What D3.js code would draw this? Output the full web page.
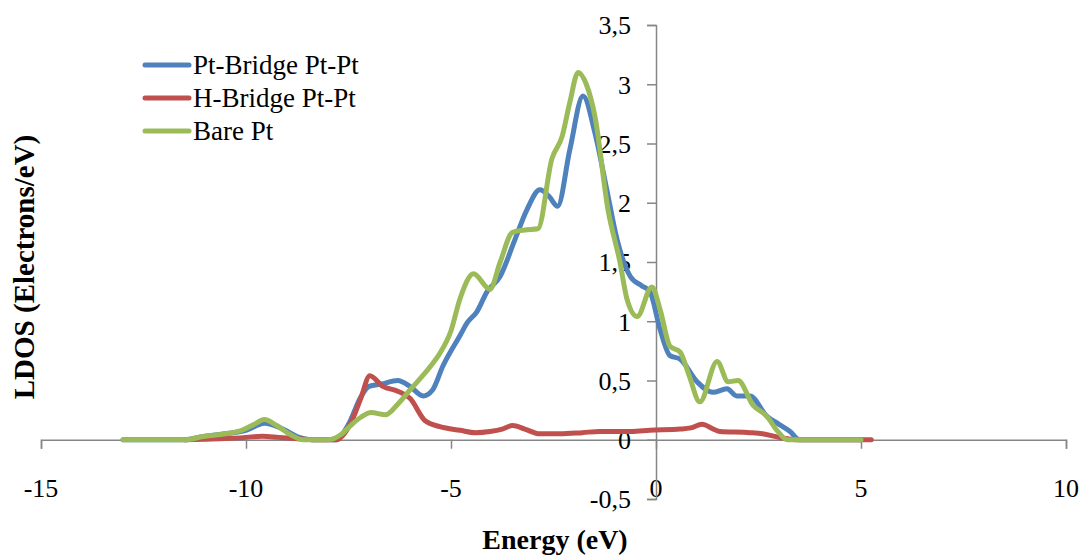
<!DOCTYPE html>
<html>
<head>
<meta charset="utf-8">
<script src="https://cdn.jsdelivr.net/npm/d3@7"></script>
<style>
  html, body { margin: 0; padding: 0; background: #fff; }
  svg { display: block; }
  text { font-family: "Liberation Serif", "Times New Roman", serif; fill: #000; }
</style>
</head>
<body>
<svg id="chart" width="1081" height="556"></svg>
<script>
// Series labels
const seriesNames = ["Pt-Bridge Pt-Pt", "H-Bridge Pt-Pt", "Bare Pt"];
const seriesColors = ["#4F81BD", "#C0504D", "#9BBB59"];

// Pt-Bridge Pt-Pt: energy (eV) and LDOS (electrons/eV)
const ptBridgeE = [-13, -11.5, -11, -10.5, -10.0, -9.55, -9.1, -8.7, -8.4, -7.8, -7.5, -7.2, -7.0, -6.7, -6.3, -6.0, -5.68, -5.45, -5.2, -4.78, -4.6, -4.37, -4.12, -3.8, -3.45, -3.15, -2.83, -2.6, -2.4, -2.1, -1.78, -1.49, -1.2, -0.95, -0.63, -0.35, -0.15, 0.1, 0.34, 0.59, 1.0, 1.39, 1.73, 1.97, 2.29, 2.7, 3.0, 3.27, 3.5, 5.0];
const ptBridgeV = [0, 0, 0.03, 0.05, 0.08, 0.14, 0.09, 0.02, 0, 0, 0.13, 0.36, 0.45, 0.47, 0.50, 0.45, 0.37, 0.42, 0.62, 0.88, 0.99, 1.08, 1.25, 1.38, 1.68, 1.94, 2.11, 2.05, 1.97, 2.45, 2.90, 2.59, 2.11, 1.69, 1.38, 1.30, 1.25, 0.93, 0.71, 0.68, 0.49, 0.40, 0.43, 0.37, 0.37, 0.20, 0.13, 0.07, 0, 0];

// H-Bridge Pt-Pt
const hBridgeE = [-11.5, -11, -10.5, -10, -9.6, -9.2, -8.8, -8.3, -7.8, -7.46, -7.2, -6.98, -6.66, -6.3, -6.0, -5.63, -5.27, -4.78, -4.4, -4.05, -3.75, -3.5, -3.2, -2.83, -2.34, -1.8, -1.37, -0.6, -0.15, 0.59, 0.85, 1.12, 1.4, 1.56, 2.29, 2.6, 3.0, 3.5, 5.25];
const hBridgeV = [0, 0.005, 0.01, 0.02, 0.03, 0.02, 0.01, 0, 0, 0.13, 0.35, 0.54, 0.45, 0.41, 0.35, 0.16, 0.11, 0.08, 0.06, 0.07, 0.09, 0.12, 0.09, 0.05, 0.05, 0.06, 0.07, 0.07, 0.08, 0.09, 0.10, 0.13, 0.09, 0.07, 0.06, 0.05, 0.02, 0, 0];

// Bare Pt
const barePtE = [-13, -11.5, -11, -10.5, -10.1, -9.8, -9.55, -9.25, -8.9, -8.6, -8.0, -7.7, -7.45, -7.2, -6.95, -6.6, -6.3, -6.0, -5.5, -5.27, -5.0, -4.78, -4.45, -4.05, -3.8, -3.5, -3.2, -2.88, -2.54, -2.29, -2.1, -1.9, -1.7, -1.49, -1.17, -0.88, -0.71, -0.46, -0.1, 0.1, 0.34, 0.59, 0.8, 1.07, 1.49, 1.76, 2.0, 2.37, 2.7, 2.95, 3.2, 5.0];
const barePtV = [0, 0, 0.03, 0.05, 0.08, 0.13, 0.17, 0.12, 0.04, 0, 0, 0.04, 0.12, 0.19, 0.23, 0.21, 0.30, 0.42, 0.62, 0.73, 0.92, 1.19, 1.40, 1.27, 1.50, 1.75, 1.77, 1.78, 2.37, 2.56, 2.85, 3.10, 3.00, 2.73, 1.94, 1.50, 1.19, 1.04, 1.29, 1.10, 0.79, 0.74, 0.55, 0.32, 0.66, 0.49, 0.50, 0.29, 0.20, 0.08, 0, 0];

// Axis ticks
const xTicks = [-15, -10, -5, 0, 5, 10];
const yTicks = [-0.5, 0, 0.5, 1, 1.5, 2, 2.5, 3, 3.5];

const svg = d3.select("#chart");
const axisColor = "#868686";

const x = d3.scaleLinear().domain([-15, 10]).range([41, 1066]);
const y = d3.scaleLinear().domain([-0.5, 3.5]).range([499, 25]);

const fmt = v => String(v).replace(".", ",");

// Horizontal axis through y = 0
const xAxis = d3.axisBottom(x).tickValues(xTicks).tickSize(9).tickFormat(d => d);
const gx = svg.append("g").attr("transform", `translate(0,${y(0)})`).call(xAxis);
gx.select(".domain").attr("stroke", axisColor).attr("stroke-width", 1.5);
gx.selectAll(".tick line").attr("stroke", axisColor).attr("stroke-width", 1.5);
gx.selectAll(".tick text").remove();
// x tick labels sit below the plot
svg.append("g").selectAll("text").data(xTicks).join("text")
  .attr("x", d => x(d)).attr("y", 497)
  .attr("text-anchor", "middle").attr("font-size", 26)
  .text(d => d);

// Vertical axis through x = 0
const yAxis = d3.axisLeft(y).tickValues(yTicks).tickSize(9).tickFormat(fmt);
const gy = svg.append("g").attr("transform", `translate(${x(0)},0)`).call(yAxis);
gy.select(".domain").attr("stroke", axisColor).attr("stroke-width", 1.5);
gy.selectAll(".tick line").attr("stroke", axisColor).attr("stroke-width", 1.5);
gy.selectAll(".tick text")
  .attr("x", -25).attr("dy", "0.34em")
  .attr("font-size", 26).attr("fill", "#000")
  .style("font-family", "'Liberation Serif', serif");

// Curves
const line = d3.line()
  .x(d => x(d[0])).y(d => y(d[1]))
  .curve(d3.curveMonotoneX);

const series = [
  d3.zip(ptBridgeE, ptBridgeV),
  d3.zip(hBridgeE, hBridgeV),
  d3.zip(barePtE, barePtV)
];

svg.append("g").selectAll("path").data(series).join("path")
  .attr("d", line)
  .attr("fill", "none")
  .attr("stroke", (d, i) => seriesColors[i])
  .attr("stroke-width", 5)
  .attr("stroke-linejoin", "round")
  .attr("stroke-linecap", "round");

// Legend
const legend = svg.append("g");
seriesNames.forEach((name, i) => {
  const ly = 65 + i * 33;
  legend.append("line")
    .attr("x1", 145).attr("x2", 189).attr("y1", ly).attr("y2", ly)
    .attr("stroke", seriesColors[i]).attr("stroke-width", 5)
    .attr("stroke-linecap", "round");
  legend.append("text")
    .attr("x", 193).attr("y", ly).attr("dy", "0.34em")
    .attr("font-size", 27).text(name);
});

// Axis titles
svg.append("text")
  .attr("x", 555).attr("y", 549)
  .attr("text-anchor", "middle").attr("font-size", 28).attr("font-weight", "bold")
  .text("Energy (eV)");

svg.append("text")
  .attr("transform", "translate(34,267) rotate(-90)")
  .attr("text-anchor", "middle").attr("font-size", 29).attr("font-weight", "bold")
  .text("LDOS (Electrons/eV)");
</script>
</body>
</html>
